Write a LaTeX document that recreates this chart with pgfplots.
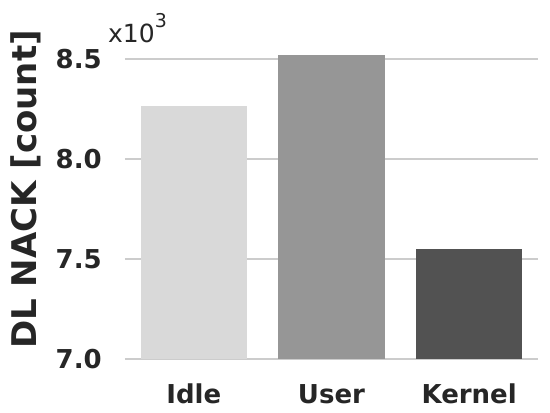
\documentclass[border=0pt]{standalone}
\usepackage{fontspec}
\setmainfont{DejaVu Sans}
\usepackage{pgfplots}
\pgfplotsset{compat=1.18}
\definecolor{idlec}{HTML}{D9D9D9}
\definecolor{userc}{HTML}{969696}
\definecolor{kernc}{HTML}{525252}
\definecolor{gridc}{HTML}{CCCCCC}
\definecolor{textc}{HTML}{262626}
\begin{document}
\begin{tikzpicture}[x=1pt,y=1pt]
\useasboundingbox (-125,-54) rectangle (425,359);
\begin{axis}[
  at={(0,0)}, anchor=south west,
  scale only axis, width=413pt, height=340pt,
  xmin=-0.5, xmax=2.5, ymin=7000, ymax=8700,
  ybar, bar width=0.772, bar shift=0pt,
  xtick={0,1,2}, xticklabels={Idle,User,Kernel},
  ytick={7000,7500,8000,8500}, yticklabels={7.0,7.5,8.0,8.5},
  scaled y ticks=false,
  ymajorgrids,
  every axis grid/.style={draw=gridc, line width=2.8pt},
  every major grid/.style={draw=gridc, line width=2.8pt},
  axis line style={draw=none},
  major tick length=0pt,
  tick label style={font=\fontsize{26}{26}\selectfont\bfseries, text=textc},
  yticklabel style={anchor=east, inner sep=0pt, xshift=-23pt},
  xticklabel style={anchor=base, inner sep=0pt, yshift=-45pt},
  ylabel={DL NACK [count]},
  ylabel style={at={(axis description cs:-0.2397,0.4985)}, anchor=center, inner sep=0pt,
    font=\fontsize{34}{34}\selectfont\bfseries, text=textc},
]
\addplot[fill=idlec, draw=none] coordinates {(0,8267)};
\addplot[fill=userc, draw=none] coordinates {(1,8521)};
\addplot[fill=kernc, draw=none] coordinates {(2,7551)};
\end{axis}
\node[anchor=base west, inner sep=0pt, font=\fontsize{25}{25}\selectfont, text=textc] at (-17,316) {x10\raisebox{15pt}{\fontsize{19}{19}\selectfont 3}};
\end{tikzpicture}
\end{document}
